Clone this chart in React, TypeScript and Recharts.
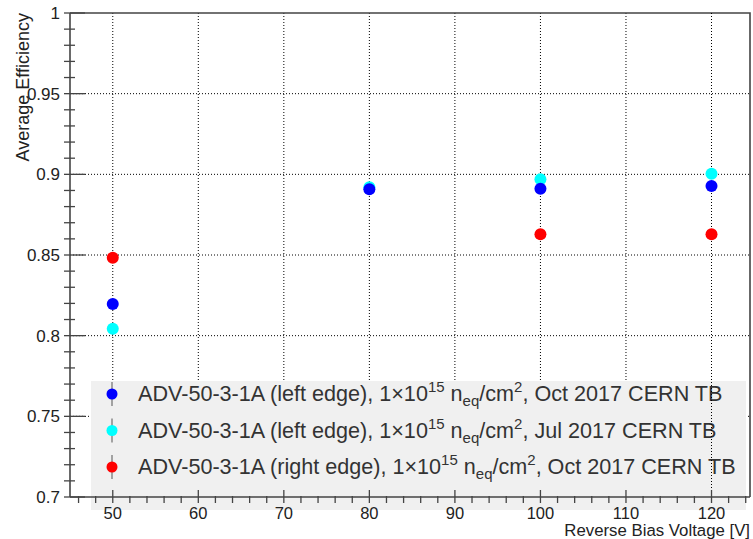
import React from 'react';
import { ScatterChart, Scatter, XAxis, YAxis, CartesianGrid, ReferenceLine } from 'recharts';

// bias voltages (V)
const voltages = [50, 80, 100, 120];
const leftEdgeOct = [0.8196, 0.8908, 0.891, 0.8928];
const leftEdgeJul = [0.8043, 0.892, 0.897, 0.9003];
const rightEdgeVoltages = [50, 100, 120];
const rightEdgeOct = [0.8483, 0.8628, 0.8628];

const xMajorTicks = [50, 60, 70, 80, 90, 100, 110, 120];
const yMajorTicks = [0.75, 0.8, 0.85, 0.9, 0.95];

const seriesNames = [
  { label: 'ADV-50-3-1A (left edge)', when: 'Oct 2017 CERN TB', color: '#0000ff' },
  { label: 'ADV-50-3-1A (left edge)', when: 'Jul 2017 CERN TB', color: '#00ffff' },
  { label: 'ADV-50-3-1A (right edge)', when: 'Oct 2017 CERN TB', color: '#ff0000' },
];

const toPoints = (xs: number[], ys: number[]) => xs.map((x, i) => ({ x, y: ys[i] }));

const blueData = toPoints(voltages, leftEdgeOct);
const cyanData = toPoints(voltages, leftEdgeJul);
const redData = toPoints(rightEdgeVoltages, rightEdgeOct);

// minor ticks every 2 V / every 0.01
const xTicks: number[] = [];
for (let v = 46; v <= 124; v += 2) xTicks.push(v);
const yTicks: number[] = [];
for (let i = 0; i <= 30; i++) yTicks.push(Math.round((0.7 + i * 0.01) * 100) / 100);

const FONT = '"Liberation Sans", Arial, Helvetica, sans-serif';
const AXIS = '#444';
const TXT = '#222';

const YTick = (props: any) => {
  const { x, y, payload } = props;
  const v = payload.value as number;
  const major = Math.round(v * 100) % 5 === 0;
  return (
    <g>
      <line x1={x} x2={x + (major ? 21 : 11)} y1={y} y2={y} stroke={AXIS} strokeWidth={1.3} />
      {major && (
        <text x={x - 4} y={y + 6} textAnchor="end" fontSize={17} fill={TXT} fontFamily={FONT}>
          {String(v)}
        </text>
      )}
    </g>
  );
};

const XTick = (props: any) => {
  const { x, y, payload } = props;
  const v = payload.value as number;
  const major = v % 10 === 0;
  return (
    <g>
      <line x1={x} x2={x} y1={y} y2={y - (major ? 13 : 7)} stroke={AXIS} strokeWidth={1.3} />
      {major && (
        <text x={x} y={y + 16} textAnchor="middle" fontSize={16.5} fill={TXT} fontFamily={FONT}>
          {String(v)}
        </text>
      )}
    </g>
  );
};

const Dot = (color: string) => (props: any) => <circle cx={props.cx} cy={props.cy} r={6} fill={color} />;

const LegendBox = () => (
  <g fontFamily={FONT}>
    <rect x={91} y={381} width={655} height={129} fill="#f0f0f0" />
    {seriesNames.map((s, i) => {
      const cy = 394 + i * 36.5;
      return (
        <g key={i}>
          <line x1={112} x2={112} y1={cy - 12} y2={cy + 12} stroke="#555" strokeWidth={1} />
          <circle cx={112} cy={cy} r={5.5} fill={s.color} />
          <text x={138} y={cy + 7} fontSize={21.6} fill="#333">
            {s.label + ', 1×10'}
            <tspan dy={-9} fontSize={15}>15</tspan>
            <tspan dy={9}>{' n'}</tspan>
            <tspan dy={5} fontSize={15}>eq</tspan>
            <tspan dy={-5}>/cm</tspan>
            <tspan dy={-9} fontSize={15}>2</tspan>
            <tspan dy={9}>{', ' + s.when}</tspan>
          </text>
        </g>
      );
    })}
  </g>
);

const Frame = () => (
  <g fontFamily={FONT}>
    <polyline points="70,13 750,13 750,497" fill="none" stroke={AXIS} strokeWidth={1.6} />
    <text x={29} y={13} transform="rotate(-90 29 13)" textAnchor="end" fontSize={18} fill={TXT}>
      Average Efficiency
    </text>
    <text x={750} y={535.5} textAnchor="end" fontSize={16.8} fill={TXT}>
      Reverse Bias Voltage [V]
    </text>
  </g>
);

export default function App() {
  return (
    <div style={{ position: 'absolute', left: 0, top: 0, width: 753, height: 539, background: '#fff' }}>
      <ScatterChart width={753} height={539} margin={{ top: 13, right: 3, bottom: 0, left: 0 }}>
        <CartesianGrid
          stroke="#000"
          strokeDasharray="1 2"
          horizontalValues={yMajorTicks}
          verticalValues={xMajorTicks}
        />
        <LegendBox />
        <ReferenceLine x={120} stroke="#000" strokeDasharray="1 2" />
        <XAxis
          type="number"
          dataKey="x"
          domain={[45, 124.5]}
          ticks={xTicks}
          interval={0}
          height={42}
          tickLine={false}
          tickMargin={0}
          tick={<XTick />}
          axisLine={{ stroke: AXIS, strokeWidth: 1.6 }}
          allowDataOverflow
        />
        <YAxis
          type="number"
          dataKey="y"
          domain={[0.7, 1]}
          ticks={yTicks}
          interval={0}
          width={70}
          tickLine={false}
          tickMargin={0}
          tick={<YTick />}
          axisLine={{ stroke: AXIS, strokeWidth: 1.6 }}
          allowDataOverflow
        />
        <Scatter data={cyanData} shape={Dot('#00ffff')} isAnimationActive={false} />
        <Scatter data={blueData} shape={Dot('#0000ff')} isAnimationActive={false} />
        <Scatter data={redData} shape={Dot('#ff0000')} isAnimationActive={false} />
        <Frame />
      </ScatterChart>
    </div>
  );
}
